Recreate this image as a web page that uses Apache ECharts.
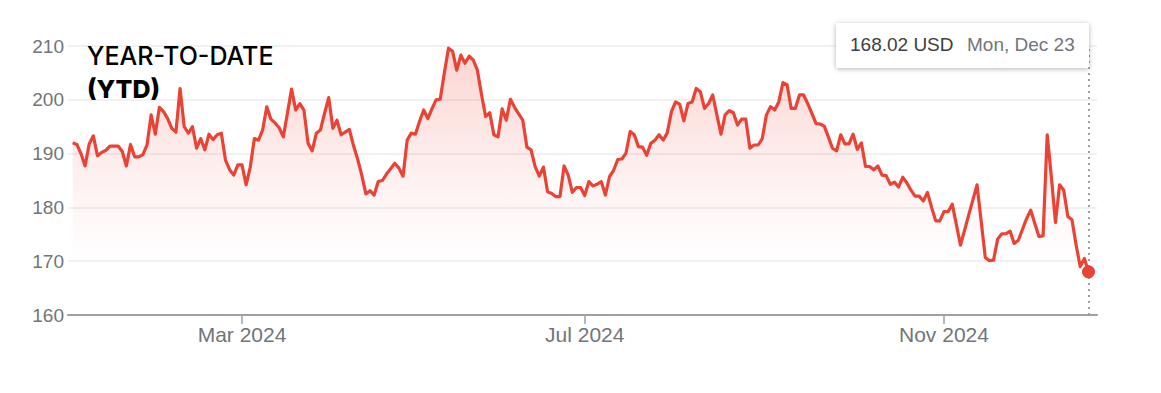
<!DOCTYPE html>
<html>
<head>
<meta charset="utf-8">
<script src="https://cdn.jsdelivr.net/npm/echarts@6/dist/echarts.min.js"></script>
<style>
  html, body { margin: 0; padding: 0; background: #ffffff; }
  #chart { width: 1161px; height: 393px; }
</style>
</head>
<body>
<div id="chart"></div>
<script>
// ---- Data ----
const titleLine1 = 'YEAR-TO-DATE';
const titleLine2 = '(YTD)';
const currency = 'USD';
const firstDay = '2024-01-02';
const lastDay = '2024-12-23';
const marketHolidays = ['2024-01-01','2024-01-15','2024-02-19','2024-03-29','2024-05-27',
  '2024-06-19','2024-07-04','2024-09-02','2024-11-28','2024-12-25'];
const tickMonths = ['2024-03', '2024-07', '2024-11'];
const tickLabels = ['Mar 2024', 'Jul 2024', 'Nov 2024'];
const yTicks = [160, 170, 180, 190, 200, 210];

// closing prices, one per trading day
const prices = [
  192.0, 191.7, 190.0, 187.7, 191.8, 193.3, 189.6, 190.2, 190.6, 191.4,
  191.4, 191.4, 190.4, 187.7, 191.7, 189.4, 189.4, 189.8, 191.6, 197.2,
  193.6, 198.6, 197.8, 196.5, 194.7, 194.0, 202.1, 195.0, 193.8, 195.0,
  191.0, 192.8, 190.7, 193.6, 192.6, 193.5, 193.8, 188.8, 187.0, 186.0,
  187.9, 187.9, 184.2, 187.5, 192.8, 192.5, 194.4, 198.7, 196.4, 195.7,
  194.8, 193.1, 197.5, 202.0, 198.1, 199.3, 198.1, 191.9, 190.5, 193.8,
  194.4, 197.5, 200.4, 194.7, 196.2, 193.5, 194.0, 194.5, 191.5, 189.0,
  186.0, 182.5, 183.1, 182.3, 184.8, 185.0, 186.2, 187.2, 188.2, 187.3,
  185.8, 192.5, 193.8, 193.6, 196.0, 198.1, 196.5, 198.3, 200.0, 200.1,
  205.0, 209.6, 209.0, 205.5, 208.3, 206.8, 208.1, 207.4, 205.5, 201.0,
  196.9, 197.6, 193.5, 193.1, 198.3, 196.2, 200.1, 198.6, 197.4, 196.2,
  191.2, 190.7, 187.6, 185.8, 187.5, 182.9, 182.6, 182.0, 182.0, 187.7,
  186.0, 182.8, 183.7, 183.7, 182.2, 184.8, 184.0, 184.3, 184.8, 182.3,
  185.7, 186.9, 188.9, 189.0, 190.1, 194.1, 193.5, 191.3, 191.2, 189.7,
  191.9, 192.5, 193.5, 192.5, 193.9, 197.8, 199.6, 199.2, 196.1, 199.3,
  199.6, 202.1, 201.5, 198.4, 199.3, 200.9, 197.2, 193.6, 197.2, 198.0,
  197.6, 195.3, 196.4, 196.4, 191.0, 191.6, 191.6, 192.8, 197.2, 198.7,
  198.1, 199.6, 203.2, 202.8, 198.4, 198.4, 200.9, 200.9, 199.3, 197.5,
  195.6, 195.5, 195.1, 193.1, 191.0, 190.5, 193.5, 191.8, 191.8, 193.6,
  190.8, 192.0, 187.6, 187.6, 187.0, 187.7, 186.0, 185.9, 184.3, 184.7,
  183.8, 185.6, 184.6, 183.2, 182.1, 182.1, 181.2, 182.8, 180.0, 177.5,
  177.5, 179.2, 179.2, 180.6, 176.8, 173.0, 175.8, 178.6, 181.4, 184.2,
  177.5, 170.7, 170.1, 170.2, 174.1, 175.1, 175.1, 175.6, 173.3, 173.9,
  175.9, 177.9, 179.5, 177.0, 174.6, 174.7, 193.5, 185.7, 177.2, 184.2,
  183.2, 178.3, 177.7, 173.0, 169.0, 170.5, 168.02
];

// ---- trading-day calendar (categories) ----
function tradingDays(start, end, holidays) {
  const out = [];
  const d = new Date(start + 'T00:00:00Z');
  const e = new Date(end + 'T00:00:00Z');
  while (d <= e) {
    const iso = d.toISOString().slice(0, 10);
    const wd = d.getUTCDay();
    if (wd !== 0 && wd !== 6 && holidays.indexOf(iso) < 0) out.push(iso);
    d.setUTCDate(d.getUTCDate() + 1);
  }
  return out;
}
const dates = tradingDays(firstDay, lastDay, marketHolidays);
const tickIndex = tickMonths.map(m => dates.findIndex(s => s.startsWith(m)));
const seriesData = prices.map((v, i) => [i, v]);
const lastIdx = prices.length - 1;
const lastVal = prices[lastIdx];
const lastDate = new Date(dates[lastIdx] + 'T00:00:00Z');
const dayNames = ['Sun','Mon','Tue','Wed','Thu','Fri','Sat'];
const monNames = ['Jan','Feb','Mar','Apr','May','Jun','Jul','Aug','Sep','Oct','Nov','Dec'];
const lastDateLabel = dayNames[lastDate.getUTCDay()] + ', ' + monNames[lastDate.getUTCMonth()] + ' ' + lastDate.getUTCDate();

const RED = '#ea4335';
const GRAY = '#70757a';
const FONT = 'Arial, "Liberation Sans", sans-serif';

const chart = echarts.init(document.getElementById('chart'), null, { renderer: 'svg' });

// layout: pixel size of one trading day
const gridLeft = 68, gridRight = 64;
const firstX = 72.7, lastX = 1088.5;
const step = (lastX - firstX) / lastIdx;
const xMin = -(firstX - gridLeft) / step;
const xMax = lastIdx + ((1161 - gridRight) - lastX) / step;

chart.setOption({
  animation: false,
  backgroundColor: '#ffffff',
  title: [
    { text: titleLine1, left: 87, top: 43, padding: 0,
      textStyle: { fontFamily: 'Inter', fontSize: 25, fontWeight: 500, color: '#000000' } },
    { text: titleLine2, left: 87, top: 76, padding: 0,
      textStyle: { fontFamily: 'Inter', fontSize: 25, fontWeight: 800, color: '#000000' } }
  ],
  grid: { left: gridLeft, right: gridRight, top: 46, bottom: 78, containLabel: false },
  xAxis: {
    type: 'value',
    min: xMin,
    max: xMax,
    splitLine: { show: false },
    axisLine: { show: true, lineStyle: { color: '#9aa0a6', width: 2 } },
    axisTick: { show: true, customValues: tickIndex, length: 9, lineStyle: { color: '#9aa0a6', width: 1.5 } },
    axisLabel: {
      show: true,
      customValues: tickIndex,
      formatter: v => tickLabels[tickIndex.indexOf(Math.round(v))] || '',
      color: GRAY, fontFamily: FONT, fontSize: 21, margin: 9
    }
  },
  yAxis: {
    type: 'value',
    min: yTicks[0],
    max: yTicks[yTicks.length - 1],
    interval: 10,
    axisLine: { show: false },
    axisTick: { show: false },
    splitLine: { show: true, lineStyle: { color: '#f1f1f1', width: 2 } },
    axisLabel: { color: GRAY, fontFamily: FONT, fontSize: 19, margin: 4 }
  },
  series: [
    {
      type: 'line',
      data: seriesData,
      showSymbol: false,
      symbol: 'none',
      lineStyle: { color: RED, width: 3.2, join: 'round' },
      areaStyle: {
        origin: 'start',
        color: new echarts.graphic.LinearGradient(0, 0, 0, 1, [
          { offset: 0, color: 'rgba(234,67,53,0.32)' },
          { offset: 0.45, color: 'rgba(234,67,53,0.12)' },
          { offset: 0.8, color: 'rgba(234,67,53,0.0)' },
          { offset: 1, color: 'rgba(234,67,53,0.0)' }
        ])
      },
      markLine: {
        silent: true,
        symbol: 'none',
        label: { show: false },
        lineStyle: { color: '#9aa0a6', type: [2, 4], width: 2 },
        data: [{ xAxis: lastIdx }]
      },
      z: 2
    },
    {
      type: 'scatter',
      data: [[lastIdx, lastVal]],
      symbol: 'circle',
      symbolSize: 13,
      itemStyle: { color: RED, opacity: 1 },
      z: 5
    }
  ],
  graphic: [
    { type: 'rect', left: 836, top: 23, z: 100,
      shape: { width: 253, height: 45, r: 2 },
      style: { fill: '#ffffff', shadowBlur: 5, shadowOffsetY: 1, shadowColor: 'rgba(0,0,0,0.3)' } },
    { type: 'text', left: 850, top: 35, z: 101,
      style: { text: lastVal.toFixed(2) + ' ' + currency, fill: '#3c4043', font: '19px ' + FONT } },
    { type: 'text', left: 967, top: 35, z: 101,
      style: { text: lastDateLabel, fill: GRAY, font: '19px ' + FONT } }
  ]
});
</script>
</body>
</html>
